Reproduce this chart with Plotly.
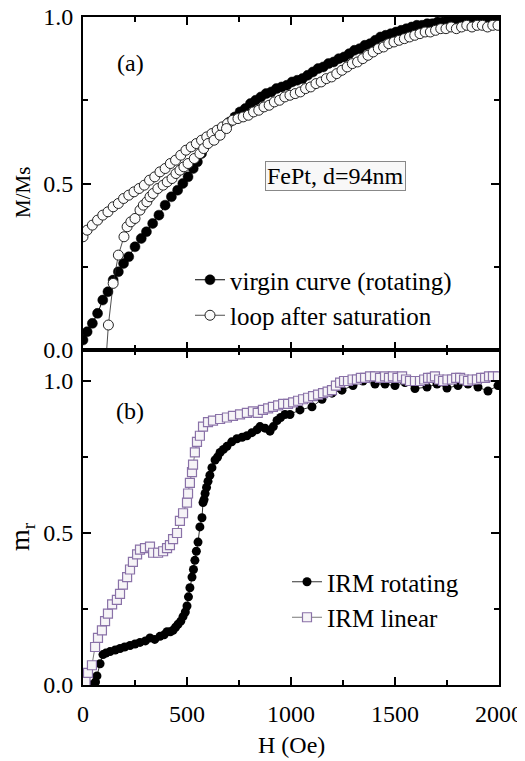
import plotly.graph_objects as go

# ---------------- data: panel (a) ----------------
virgin_H = [0, 20, 45, 70, 95, 120, 145, 170, 195, 220, 250, 280, 305, 335, 365, 395, 425, 455, 480,
            505, 530, 550, 570, 590, 610, 630, 655, 680, 705, 730, 755, 780, 805, 830, 855, 880, 905,
            930, 955, 980, 1005, 1030, 1055, 1080, 1105, 1130, 1155, 1180, 1205, 1230, 1255, 1280,
            1305, 1330, 1355, 1380, 1405, 1430, 1455, 1480, 1505, 1530, 1555, 1580, 1605, 1630, 1655,
            1680, 1705, 1730, 1755, 1780, 1805, 1830, 1855, 1880, 1905, 1930, 1955, 1980, 2000]
virgin_M = [0.03, 0.055, 0.08, 0.11, 0.15, 0.175, 0.21, 0.235, 0.26, 0.28, 0.31, 0.335, 0.355, 0.38,
            0.405, 0.435, 0.46, 0.48, 0.50, 0.52, 0.545, 0.565, 0.59, 0.62, 0.635, 0.645, 0.66, 0.67,
            0.685, 0.70, 0.715, 0.725, 0.74, 0.75, 0.76, 0.77, 0.775, 0.785, 0.79, 0.795, 0.805, 0.81,
            0.815, 0.825, 0.835, 0.845, 0.85, 0.86, 0.865, 0.875, 0.88, 0.89, 0.90, 0.905, 0.915,
            0.92, 0.93, 0.94, 0.945, 0.95, 0.955, 0.96, 0.965, 0.97, 0.975, 0.975, 0.98, 0.98, 0.985,
            0.985, 0.99, 0.99, 0.995, 0.995, 0.99, 0.995, 0.99, 0.995, 0.99, 0.995, 0.99]

loop_up_H = [0, 20, 45, 70, 95, 120, 145, 170, 195, 220, 245, 270, 295, 320, 345, 370, 395, 420, 445,
             470, 495, 520, 545, 570, 595, 620, 645, 670, 695, 720, 745, 770, 795, 820, 845, 870, 895,
             920, 945, 970, 995, 1020, 1045, 1070, 1095, 1120, 1145, 1170, 1195, 1220, 1245, 1270,
             1295, 1320, 1345, 1370, 1395, 1420, 1445, 1470, 1495, 1520, 1545, 1570, 1595, 1620,
             1645, 1670, 1695, 1720, 1745, 1770, 1795, 1820, 1845, 1870, 1895, 1920, 1945, 1970, 1995]
loop_up_M = [0.34, 0.36, 0.375, 0.39, 0.405, 0.415, 0.43, 0.44, 0.455, 0.465, 0.475, 0.485, 0.495,
             0.51, 0.52, 0.535, 0.545, 0.56, 0.57, 0.585, 0.60, 0.61, 0.62, 0.63, 0.64, 0.65, 0.66,
             0.67, 0.68, 0.69, 0.695, 0.70, 0.705, 0.715, 0.72, 0.73, 0.735, 0.745, 0.75, 0.76, 0.765,
             0.77, 0.775, 0.785, 0.79, 0.80, 0.805, 0.815, 0.82, 0.83, 0.84, 0.85, 0.86, 0.865, 0.875,
             0.885, 0.895, 0.905, 0.91, 0.92, 0.925, 0.93, 0.935, 0.94, 0.945, 0.95, 0.955, 0.955,
             0.96, 0.965, 0.965, 0.97, 0.965, 0.97, 0.975, 0.97, 0.975, 0.975, 0.97, 0.975, 0.975]

loop_low_H = [105, 122, 145, 170, 197, 212, 230, 250, 274, 290, 307, 322, 337, 360, 385, 405, 428,
              447, 466, 485, 505, 535, 562, 580, 601, 630, 659, 690]
loop_low_M = [-0.08, 0.075, 0.20, 0.285, 0.34, 0.37, 0.385, 0.395, 0.42, 0.435, 0.445, 0.46, 0.47,
              0.485, 0.495, 0.505, 0.515, 0.53, 0.54, 0.55, 0.56, 0.575, 0.59, 0.605, 0.62, 0.63,
              0.645, 0.665]

# ---------------- data: panel (b) ----------------
irm_rot_H = [0, 10, 20, 30, 40, 50, 60, 67, 82, 96, 110, 130, 155, 178, 200, 226, 250, 274, 300, 322,
             345, 370, 390, 404, 420, 433, 445, 457, 470, 481, 492, 500, 507, 514, 524, 531, 538, 545,
             553, 562, 572, 577, 582, 587, 594, 601, 610, 620, 635, 647, 659, 675, 692, 715, 740, 765,
             788, 812, 837, 851, 875, 899, 915, 933, 950, 971, 995, 1043, 1101, 1149, 1197, 1245,
             1298, 1346, 1404, 1452, 1500, 1548, 1596, 1654, 1702, 1750, 1803, 1851, 1899, 1947, 1995]
irm_rot_m = [0.0, 0.0, 0.0, 0.0, 0.0, 0.0, 0.01, 0.03, 0.07, 0.10, 0.105, 0.11, 0.115, 0.12, 0.125,
             0.13, 0.135, 0.14, 0.145, 0.155, 0.15, 0.16, 0.165, 0.175, 0.175, 0.18, 0.19, 0.20, 0.21,
             0.225, 0.24, 0.26, 0.29, 0.32, 0.355, 0.38, 0.41, 0.44, 0.47, 0.52, 0.55, 0.60, 0.61,
             0.63, 0.65, 0.67, 0.69, 0.715, 0.74, 0.75, 0.765, 0.775, 0.785, 0.80, 0.81, 0.815, 0.82,
             0.83, 0.84, 0.85, 0.845, 0.835, 0.85, 0.87, 0.88, 0.89, 0.89, 0.905, 0.915, 0.94, 0.96,
             0.97, 0.985, 1.0, 0.99, 0.99, 0.985, 0.995, 0.975, 0.98, 0.99, 0.977, 0.985, 0.99, 0.98,
             0.967, 0.985]

irm_lin_H = [0, 12, 24, 43, 58, 72, 91, 106, 120, 140, 163, 178, 192, 212, 226, 240, 260, 274, 298,
             322, 337, 361, 385, 404, 418, 433, 452, 466, 481, 500, 505, 514, 524, 529, 538, 548, 562,
             577, 601, 625, 659, 692, 721, 755, 788, 817, 840, 865, 890, 913, 938, 962, 986, 1010,
             1034, 1058, 1082, 1106, 1130, 1154, 1176, 1197, 1216, 1236, 1255, 1274, 1296, 1317,
             1336, 1356, 1380, 1404, 1428, 1452, 1471, 1490, 1512, 1534, 1553, 1572, 1596, 1620,
             1640, 1659, 1676, 1692, 1712, 1731, 1752, 1774, 1794, 1813, 1832, 1851, 1872, 1894,
             1914, 1933, 1952, 1971, 1995]
irm_lin_m = [0.0, 0.01, 0.04, 0.065, 0.125, 0.155, 0.18, 0.21, 0.235, 0.265, 0.28, 0.30, 0.33, 0.355,
             0.38, 0.405, 0.43, 0.445, 0.45, 0.455, 0.435, 0.435, 0.44, 0.45, 0.46, 0.48, 0.50, 0.54,
             0.565, 0.60, 0.63, 0.665, 0.70, 0.725, 0.765, 0.80, 0.82, 0.85, 0.865, 0.87, 0.875, 0.88,
             0.885, 0.89, 0.895, 0.90, 0.895, 0.905, 0.91, 0.915, 0.92, 0.925, 0.925, 0.93, 0.935,
             0.94, 0.945, 0.95, 0.955, 0.96, 0.965, 0.97, 0.985, 0.995, 1.0, 1.0, 1.005, 1.005, 1.01,
             1.01, 1.015, 1.015, 1.01, 1.015, 1.01, 1.015, 1.01, 1.015, 1.005, 1.0, 1.0, 1.0, 1.005,
             1.01, 1.01, 1.015, 1.005, 1.0, 1.005, 1.005, 1.01, 1.01, 1.005, 1.0, 1.005, 1.005,
             1.01, 1.01, 1.015, 1.015, 1.015]

x_ticks = [0, 500, 1000, 1500, 2000]

FONT = "Liberation Serif, Times New Roman, serif"
TICKFONT = dict(family=FONT, size=24, color="black")

fig = go.Figure()

# panel (a)
fig.add_trace(go.Scatter(
    x=virgin_H, y=virgin_M, mode="lines+markers", name="virgin curve (rotating)",
    line=dict(color="black", width=1),
    marker=dict(symbol="circle", size=10, color="black", line=dict(color="black", width=0.5)),
    xaxis="x", yaxis="y", legend="legend"))
fig.add_trace(go.Scatter(
    x=loop_up_H, y=loop_up_M, mode="lines+markers", name="loop after saturation",
    line=dict(color="#222222", width=0.8),
    marker=dict(symbol="circle", size=10, color="#fbfbfb", line=dict(color="#222222", width=1)),
    xaxis="x", yaxis="y", legend="legend", legendgroup="loop"))
fig.add_trace(go.Scatter(
    x=loop_low_H, y=loop_low_M, mode="lines+markers", name="loop after saturation",
    line=dict(color="#222222", width=0.8),
    marker=dict(symbol="circle", size=10, color="#fbfbfb", line=dict(color="#222222", width=1)),
    xaxis="x", yaxis="y", showlegend=False, legendgroup="loop"))

# panel (b)
fig.add_trace(go.Scatter(
    x=irm_rot_H, y=irm_rot_m, mode="lines+markers", name="IRM rotating",
    line=dict(color="#333333", width=1),
    marker=dict(symbol="circle", size=9, color="black"),
    xaxis="x2", yaxis="y2", legend="legend2"))
fig.add_trace(go.Scatter(
    x=irm_lin_H, y=irm_lin_m, mode="lines+markers", name="IRM linear",
    line=dict(color="#555555", width=0.8),
    marker=dict(symbol="square", size=9, color="#f6f4f7", line=dict(color="#8a72a8", width=1.2)),
    xaxis="x2", yaxis="y2", legend="legend2"))

split = 335 / 668

axis_common = dict(showline=True, linecolor="black", linewidth=2, mirror="ticks",
                   ticks="inside", ticklen=8, tickwidth=1.5, tickcolor="black",
                   showgrid=False, zeroline=False, tickfont=TICKFONT, automargin=False,
                   ticklabeloverflow="allow")

# the page body has an 8px default margin, so the margins are shifted by 8px
fig.update_layout(
    width=525, height=761,
    margin=dict(l=75, r=34, t=9, b=84, autoexpand=False),
    paper_bgcolor="white", plot_bgcolor="white",
    font=dict(family=FONT, color="black"),
    xaxis=dict(**axis_common, domain=[0, 1], anchor="y", range=[0, 2000],
               tickvals=x_ticks, showticklabels=False, matches="x2",
               minor=dict(dtick=250, ticks="inside", ticklen=5, tickwidth=1.5, tickcolor="black")),
    yaxis=dict(**axis_common, domain=[split, 1], anchor="x", range=[0, 1.0],
               tickvals=[0, 0.5, 1.0], tickformat=".1f", ticklabelstandoff=3,
               minor=dict(tickvals=[0.25, 0.75], ticks="inside", ticklen=5, tickwidth=1.5,
                          tickcolor="black")),
    xaxis2=dict(**axis_common, domain=[0, 1], anchor="y2", range=[0, 2000],
                tickvals=x_ticks, ticklabelstandoff=6,
                minor=dict(dtick=250, ticks="inside", ticklen=5, tickwidth=1.5, tickcolor="black")),
    yaxis2=dict(**axis_common, domain=[0, split], anchor="x2", range=[0, 1.102],
                tickvals=[0, 0.5, 1.0], tickformat=".1f", ticklabelstandoff=3,
                minor=dict(tickvals=[0.25, 0.75], ticks="inside", ticklen=5, tickwidth=1.5,
                           tickcolor="black")),
    legend=dict(x=(190 - 83) / 416, y=(685 - 257) / 668, xanchor="left", yanchor="top",
                bgcolor="rgba(0,0,0,0)", font=dict(family=FONT, size=25, color="black"),
                tracegroupgap=0, itemwidth=30),
    legend2=dict(x=(287 - 83) / 416, y=(685 - 559) / 668, xanchor="left", yanchor="top",
                 bgcolor="rgba(0,0,0,0)", font=dict(family=FONT, size=25, color="black"),
                 tracegroupgap=0, itemwidth=30),
    annotations=[
        dict(text="(a)", x=226, y=0.862, xref="x", yref="y", showarrow=False,
             xanchor="center", yanchor="middle",
             font=dict(family=FONT, size=24, color="black")),
        dict(text="(b)", x=226, y=0.90, xref="x2", yref="y2", showarrow=False,
             xanchor="center", yanchor="middle",
             font=dict(family=FONT, size=24, color="black")),
        dict(text="FePt, d=94nm", x=1214, y=0.524, xref="x", yref="y", showarrow=False,
             xanchor="center", yanchor="middle",
             font=dict(family=FONT, size=24, color="black"), bgcolor="#f8f8f8",
             bordercolor="#888888", borderwidth=1, borderpad=1),
        dict(text="M/Ms", x=(23 - 83) / 416, y=(685 - 193) / 668, xref="paper", yref="paper",
             xanchor="center", yanchor="middle",
             showarrow=False, textangle=-90, font=dict(family=FONT, size=21, color="black")),
        dict(text="m<sub>r</sub>", x=(21 - 83) / 416, y=(685 - 537) / 668, xref="paper",
             yref="paper", showarrow=False, textangle=-90, xanchor="center", yanchor="middle",
             font=dict(family=FONT, size=28, color="black")),
        dict(text="H (Oe)", x=0.5, y=(685 - 745) / 668, xref="paper", yref="paper",
             xanchor="center", yanchor="middle",
             showarrow=False, font=dict(family=FONT, size=24, color="black")),
    ],
)

fig.write_html("out.html")
